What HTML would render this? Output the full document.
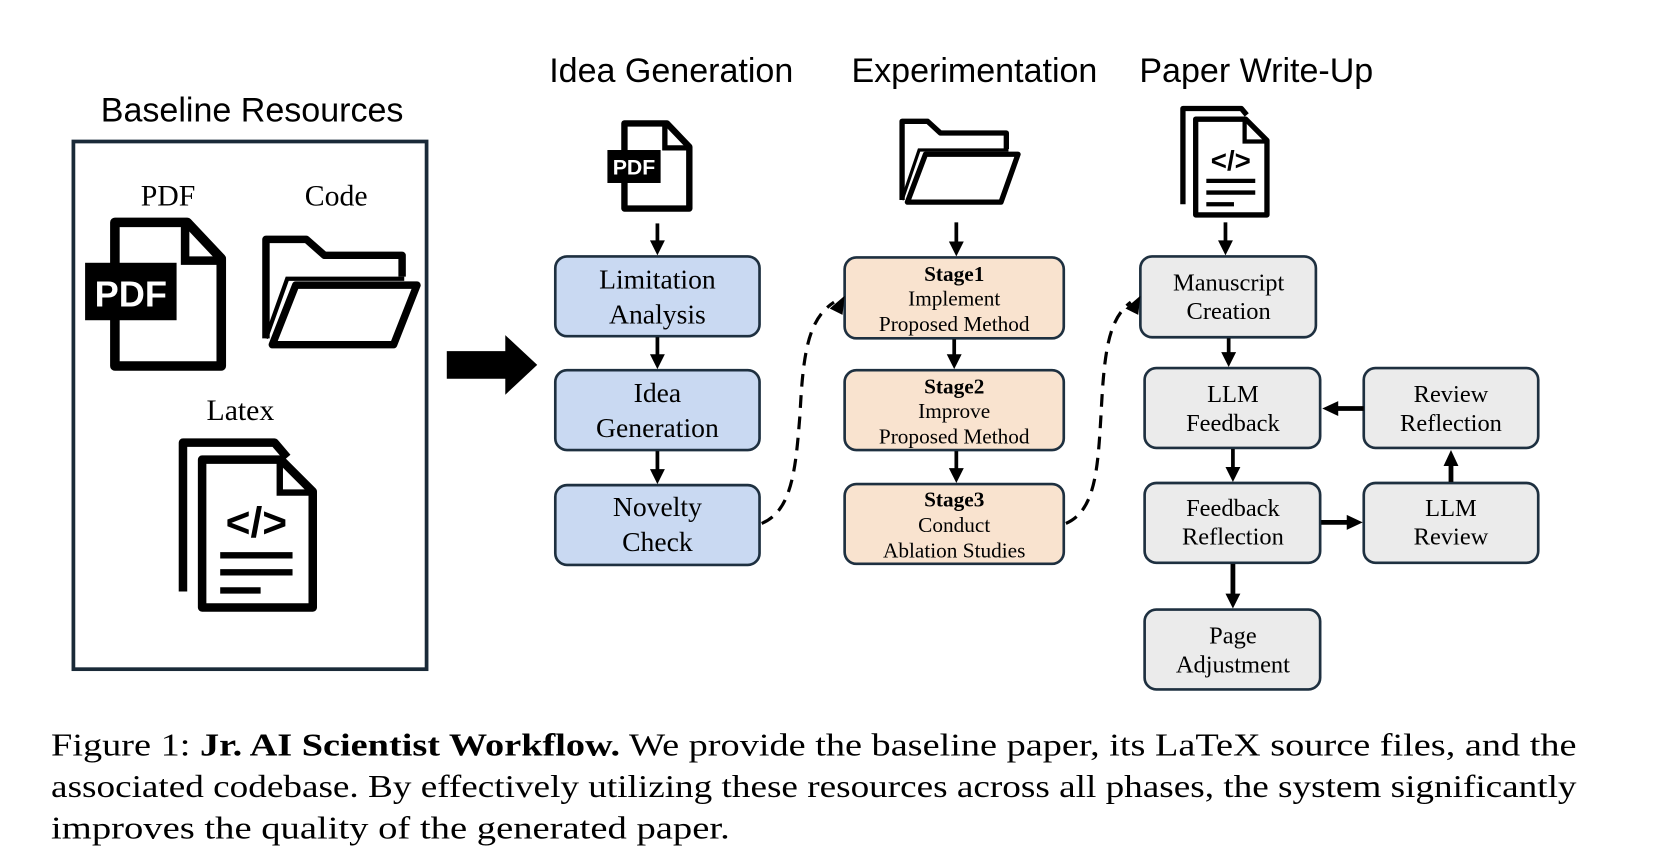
<!DOCTYPE html>
<html><head><meta charset="utf-8"><style>
html,body{margin:0;padding:0;background:#fff;}
svg{display:block;}
.s{font-family:"Liberation Sans",sans-serif;}
.r{font-family:"Liberation Serif",serif;}
</style></head><body>
<svg width="1668" height="866" viewBox="0 0 1568 814" preserveAspectRatio="none" xmlns="http://www.w3.org/2000/svg">
<rect width="1568" height="814" fill="#fff"/>
<!-- Baseline -->
<text class="s" x="237" y="114" font-size="32" text-anchor="middle">Baseline Resources</text>
<rect x="69" y="133" width="332" height="496" fill="none" stroke="#1a2a38" stroke-width="3.5"/>
<text class="r" x="158" y="193" font-size="28" text-anchor="middle">PDF</text>
<text class="r" x="316" y="193" font-size="28" text-anchor="middle">Code</text>
<text class="r" x="226" y="395" font-size="28" text-anchor="middle">Latex</text>
<!-- big PDF icon -->
<path d="M108,209 H176 L208,243 V344 H108 Z" fill="none" stroke="#000" stroke-width="9" stroke-linejoin="round"/>
<path d="M174,209 V245 H208" fill="none" stroke="#000" stroke-width="8"/>
<rect x="80" y="247" width="86" height="54" fill="#000"/>
<text class="s" x="123" y="288" font-size="34" font-weight="bold" fill="#fff" text-anchor="middle">PDF</text>
<!-- big folder -->
<path d="M250,318 V225 H288 L305,240 H378 V260" fill="none" stroke="#000" stroke-width="7" stroke-linejoin="round"/>
<path d="M256,324 L278,268 H392 L370,324 Z" fill="none" stroke="#000" stroke-width="7" stroke-linejoin="round"/>
<path d="M250,318 L270,262 H380" fill="none" stroke="#000" stroke-width="4"/>
<!-- latex doc stack -->
<path d="M172,556 V416 H258 L270,430" fill="none" stroke="#000" stroke-width="8" stroke-linejoin="round"/>
<path d="M190,571 V432 H264 L294,462 V571 Z" fill="#fff" stroke="#000" stroke-width="8" stroke-linejoin="round"/>
<path d="M263,432 V463 H294" fill="none" stroke="#000" stroke-width="6"/>
<text class="s" x="241" y="505" font-size="40" font-weight="bold" text-anchor="middle">&lt;/&gt;</text>
<line x1="207" y1="522" x2="275" y2="522" stroke="#000" stroke-width="6"/>
<line x1="207" y1="538" x2="275" y2="538" stroke="#000" stroke-width="6"/>
<line x1="207" y1="555" x2="245" y2="555" stroke="#000" stroke-width="6"/>
<!-- big arrow -->
<path d="M420,330 H475 V315 L505,343 L475,371 V356 H420 Z" fill="#000"/>
<!-- titles -->
<text class="s" x="631" y="77" font-size="32" text-anchor="middle">Idea Generation</text>
<text class="s" x="916" y="77" font-size="32" text-anchor="middle">Experimentation</text>
<text class="s" x="1181" y="77" font-size="32" text-anchor="middle">Paper Write-Up</text>
<!-- small pdf icon -->
<path d="M587,116 H627 L648,138 V196 H587 Z" fill="none" stroke="#000" stroke-width="6" stroke-linejoin="round"/>
<path d="M625,116 V139 H648" fill="none" stroke="#000" stroke-width="5"/>
<rect x="571" y="141" width="50" height="31" fill="#000"/>
<text class="s" x="596" y="164" font-size="20" font-weight="bold" fill="#fff" text-anchor="middle">PDF</text>
<!-- small folder -->
<path d="M848,188 V114 H872 L884,125 H946 V140" fill="none" stroke="#000" stroke-width="5" stroke-linejoin="round"/>
<path d="M853,190 L870,145 H957 L941,190 Z" fill="none" stroke="#000" stroke-width="5" stroke-linejoin="round"/>
<path d="M848,188 L864,141 H948" fill="none" stroke="#000" stroke-width="3"/>
<!-- small doc stack -->
<path d="M1112,192 V102 H1167 L1172,108" fill="none" stroke="#000" stroke-width="5" stroke-linejoin="round"/>
<path d="M1124,202 V112 H1171 L1191,132 V202 Z" fill="#fff" stroke="#000" stroke-width="5" stroke-linejoin="round"/>
<path d="M1170,112 V133 H1191" fill="none" stroke="#000" stroke-width="4"/>
<text class="s" x="1157" y="160" font-size="26" font-weight="bold" text-anchor="middle">&lt;/&gt;</text>
<line x1="1134" y1="170" x2="1180" y2="170" stroke="#000" stroke-width="4"/>
<line x1="1134" y1="181" x2="1180" y2="181" stroke="#000" stroke-width="4"/>
<line x1="1134" y1="192" x2="1160" y2="192" stroke="#000" stroke-width="4"/>
<!-- boxes -->
<g stroke="#1e3040" stroke-width="2.5">
<rect x="522" y="241" width="192" height="75" rx="11" fill="#c9d9f2"/>
<rect x="522" y="348" width="192" height="75" rx="11" fill="#c9d9f2"/>
<rect x="522" y="456" width="192" height="75" rx="11" fill="#c9d9f2"/>
<rect x="794" y="242" width="206" height="76" rx="11" fill="#f9e3cf"/>
<rect x="794" y="348" width="206" height="75" rx="11" fill="#f9e3cf"/>
<rect x="794" y="455" width="206" height="75" rx="11" fill="#f9e3cf"/>
<rect x="1072" y="241" width="165" height="76" rx="11" fill="#ebebeb"/>
<rect x="1076" y="346" width="165" height="75" rx="11" fill="#ebebeb"/>
<rect x="1282" y="346" width="164" height="75" rx="11" fill="#ebebeb"/>
<rect x="1076" y="454" width="165" height="75" rx="11" fill="#ebebeb"/>
<rect x="1282" y="454" width="164" height="75" rx="11" fill="#ebebeb"/>
<rect x="1076" y="573" width="165" height="75" rx="11" fill="#ebebeb"/>
</g>
<g class="r" font-size="26" text-anchor="middle">
<text x="618" y="271">Limitation</text><text x="618" y="304">Analysis</text>
<text x="618" y="378">Idea</text><text x="618" y="411">Generation</text>
<text x="618" y="485">Novelty</text><text x="618" y="518">Check</text>
</g>
<g class="r" font-size="20" text-anchor="middle">
<text x="897" y="264" font-weight="bold">Stage1</text><text x="897" y="287">Implement</text><text x="897" y="311">Proposed Method</text>
<text x="897" y="370" font-weight="bold">Stage2</text><text x="897" y="393">Improve</text><text x="897" y="417">Proposed Method</text>
<text x="897" y="476" font-weight="bold">Stage3</text><text x="897" y="500">Conduct</text><text x="897" y="524">Ablation Studies</text>
</g>
<g class="r" font-size="23" text-anchor="middle">
<text x="1155" y="273">Manuscript</text><text x="1155" y="300">Creation</text>
<text x="1159" y="378">LLM</text><text x="1159" y="405">Feedback</text>
<text x="1364" y="378">Review</text><text x="1364" y="405">Reflection</text>
<text x="1159" y="485">Feedback</text><text x="1159" y="512">Reflection</text>
<text x="1364" y="485">LLM</text><text x="1364" y="512">Review</text>
<text x="1159" y="605">Page</text><text x="1159" y="632">Adjustment</text>
</g>
<!-- arrows -->
<g stroke="#000" stroke-width="3.5" fill="#000">
<line x1="618" y1="210" x2="618" y2="228"/><path d="M611,226 L625,226 L618,240 Z" stroke="none"/>
<line x1="618" y1="317" x2="618" y2="335"/><path d="M611,333 L625,333 L618,347 Z" stroke="none"/>
<line x1="618" y1="424" x2="618" y2="443"/><path d="M611,441 L625,441 L618,455 Z" stroke="none"/>
<line x1="899" y1="209" x2="899" y2="229"/><path d="M892,227 L906,227 L899,241 Z" stroke="none"/>
<line x1="897" y1="319" x2="897" y2="335"/><path d="M890,333 L904,333 L897,347 Z" stroke="none"/>
<line x1="899" y1="424" x2="899" y2="442"/><path d="M892,440 L906,440 L899,454 Z" stroke="none"/>
<line x1="1152" y1="209" x2="1152" y2="228"/><path d="M1145,226 L1159,226 L1152,240 Z" stroke="none"/>
<line x1="1155" y1="318" x2="1155" y2="333"/><path d="M1148,331 L1162,331 L1155,345 Z" stroke="none"/>
<line x1="1159" y1="422" x2="1159" y2="441"/><path d="M1152,439 L1166,439 L1159,453 Z" stroke="none"/>
<line x1="1159" y1="530" x2="1159" y2="560" stroke-width="4.5"/><path d="M1152,558 L1166,558 L1159,572 Z" stroke="none"/>
<line x1="1282" y1="384" x2="1256" y2="384" stroke-width="4.5"/><path d="M1258,377 L1258,391 L1243,384 Z" stroke="none"/>
<line x1="1242" y1="491" x2="1268" y2="491" stroke-width="4.5"/><path d="M1266,484 L1266,498 L1281,491 Z" stroke="none"/>
<line x1="1364" y1="453" x2="1364" y2="436" stroke-width="4.5"/><path d="M1357,438 L1371,438 L1364,423 Z" stroke="none"/>
</g>
<!-- dashed curves -->
<path d="M716,492 C745,480 748,440 752,390 C755,330 760,300 784,284" fill="none" stroke="#000" stroke-width="3" stroke-dasharray="12,8"/>
<path d="M780,290 L794,278 L792,296 Z" fill="#000"/>
<path d="M1002,492 C1030,480 1032,440 1035,390 C1038,330 1042,300 1063,284" fill="none" stroke="#000" stroke-width="3" stroke-dasharray="12,8"/>
<path d="M1058,290 L1072,278 L1070,296 Z" fill="#000"/>
<!-- caption -->
<g class="r" font-size="30">
<text x="48" y="710" textLength="1434" lengthAdjust="spacingAndGlyphs">Figure 1: <tspan font-weight="bold">Jr. AI Scientist Workflow.</tspan> We provide the baseline paper, its LaTeX source files, and the</text>
<text x="48" y="749" textLength="1434" lengthAdjust="spacingAndGlyphs">associated codebase. By effectively utilizing these resources across all phases, the system significantly</text>
<text x="48" y="788" textLength="638" lengthAdjust="spacingAndGlyphs">improves the quality of the generated paper.</text>
</g>
</svg>
</body></html>
